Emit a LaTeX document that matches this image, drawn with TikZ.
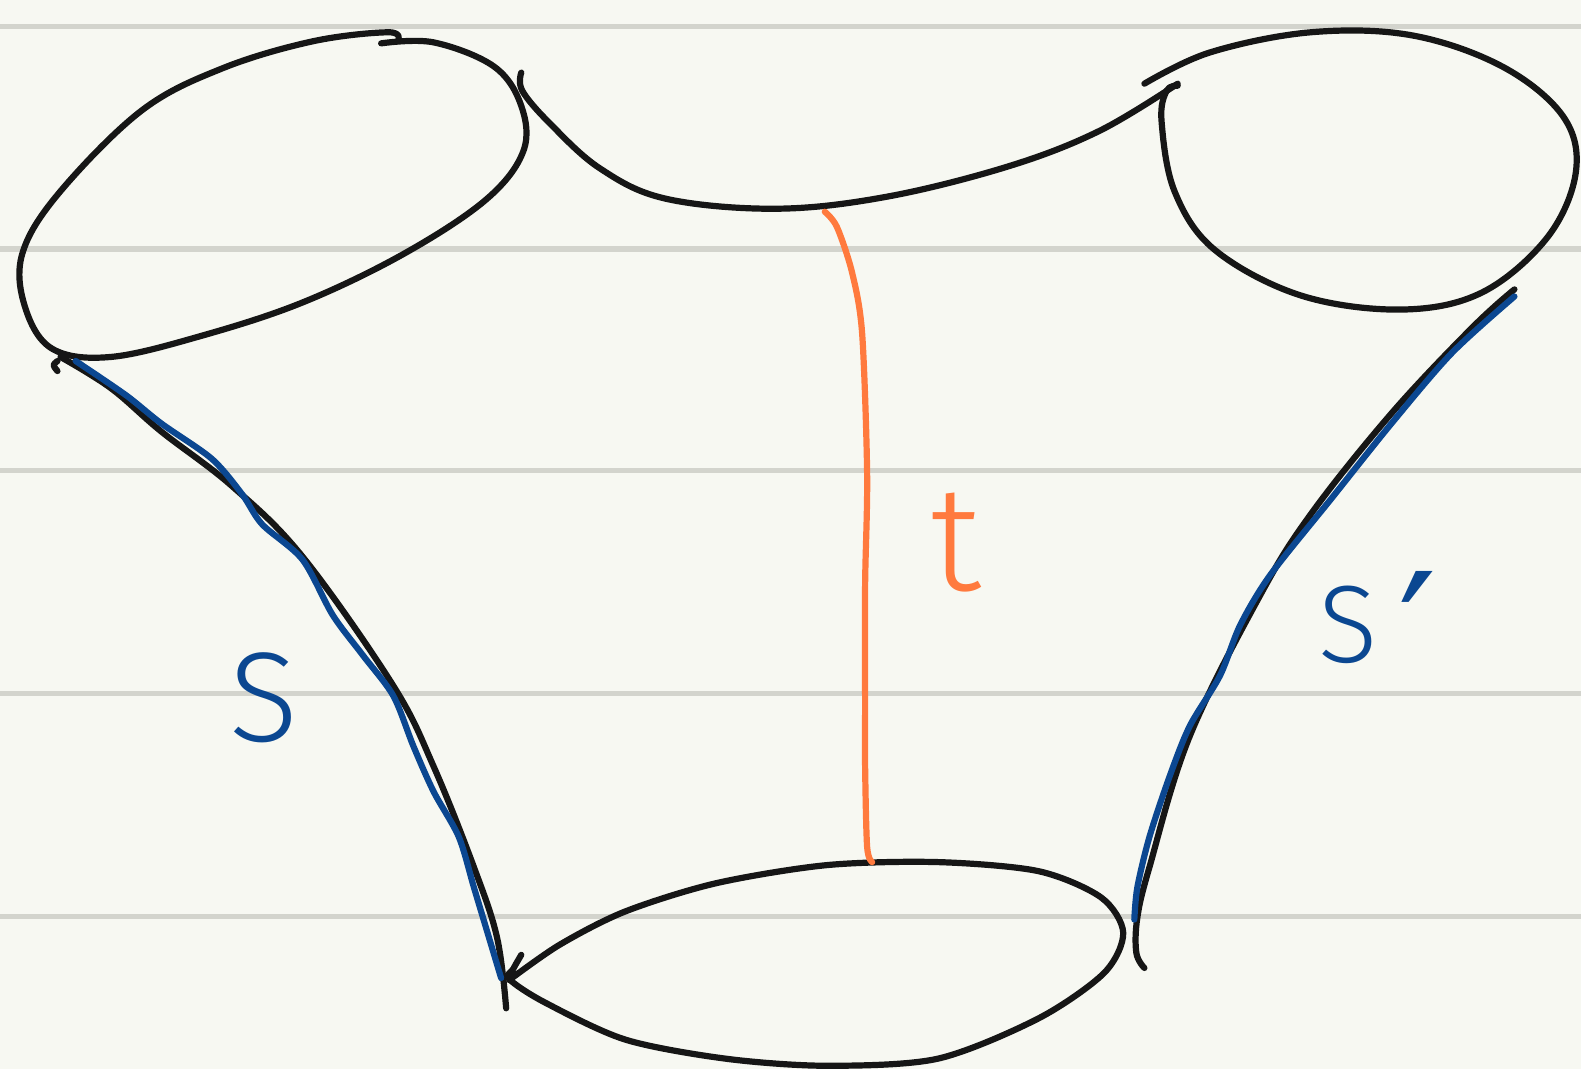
\documentclass[tikz,border=0pt]{standalone}
\usepackage{fontspec}
\setmainfont{Fira Sans Light}
\newfontfamily\primefont{DejaVu Sans}
\definecolor{paper}{HTML}{F7F8F2}
\definecolor{ruling}{HTML}{D3D4CD}
\definecolor{inkblack}{HTML}{161616}
\definecolor{inkblue}{HTML}{0B4791}
\definecolor{inkorange}{HTML}{FF7A3E}
\begin{document}
\begin{tikzpicture}[x=0.01cm, y=-0.01cm, line cap=round, line join=round,
  rule/.style={line width=1.45pt, draw=ruling},
  ink/.style={line width=1.75pt, draw=inkblack},
  curve/.style={line width=1.75pt, draw=inkblue},
  arc/.style={line width=1.75pt, draw=inkorange},
  lbl/.style={inner sep=0pt, font=\fontsize{36}{40}\selectfont}]
% paper and ruling
\fill[paper] (0,0) rectangle (1568,1060);
\useasboundingbox (0,0) rectangle (1568,1060);
\foreach \y in {26,247,467,688,909} \draw[rule] (0,\y) -- (1568,\y);
% left cuff
\draw[ink] plot[smooth, tension=0.6] coordinates {(378,43) (430,42) (490,66) (517,105) (519,150) (482,198) (400,252) (300,300) (200,333) (110,354) (52,346) (25,305) (22,252) (58,192) (140,110) (220,68) (310,41) (385,32) (395,40)};
\draw[ink] (57,358) .. controls (52,362) .. (57,368);
% right cuff
\draw[ink] plot[smooth, tension=0.6] coordinates {(1135,83) (1200,52) (1300,32) (1400,35) (1490,66) (1550,115) (1563,170) (1535,235) (1470,290) (1390,307) (1290,293) (1205,248) (1165,190) (1152,120) (1157,90) (1168,85)};
% waist
\draw[ink] plot[smooth, tension=0.6] coordinates {(517,72) (518,90) (545,122) (595,167) (660,197) (770,207) (880,195) (1000,165) (1090,130) (1168,83)};
% bottom cuff
\draw[ink] plot[smooth, tension=0.5] coordinates {(517,947) (509,961) (505,971) (540,994) (620,1031) (720,1050) (820,1057) (930,1050) (1030,1010) (1095,965) (1114,925) (1092,890) (1030,864) (930,855) (820,858) (710,876) (620,904) (555,937) (505,972)};
% legs
\draw[ink] plot[smooth, tension=0.6] coordinates {(60,354) (110,385) (160,428) (230,482) (300,552) (390,680) (430,760) (470,860) (493,930) (502,1000)};
\draw[ink] plot[smooth, tension=0.6] coordinates {(1502,287) (1460,325) (1380,410) (1300,510) (1250,590) (1180,730) (1140,860) (1128,910) (1127,945) (1135,960)};
% geodesics s and s'
\draw[curve] plot[smooth, tension=0.5] coordinates {(75,358) (125,392) (160,420) (210,455) (240,490) (260,520) (300,555) (330,610) (360,650) (390,690) (410,740) (430,785) (455,830) (470,880) (485,930) (497,970)};
\draw[curve] plot[smooth, tension=0.5] coordinates {(1502,294) (1440,350) (1380,420) (1320,495) (1260,570) (1230,620) (1210,670) (1180,720) (1160,770) (1140,830) (1128,880) (1125,912)};
% arc t
\draw[arc] plot[smooth, tension=0.5] coordinates {(818,210) (830,225) (845,270) (855,330) (860,470) (858,580) (858,700) (858,760) (860,840) (865,855)};
% labels
\node[lbl, text=inkblue] (s) at (262,692) {S};
\node[lbl, text=inkblue, font=\fontsize{31}{36}\selectfont] (sp) at (1337,620) {S};
\node[lbl, text=inkblue, font=\primefont\fontsize{48}{52}\selectfont] (prime) at (1406,628) {′};
\node[lbl, text=inkorange, font=\fontsize{42}{46}\selectfont] (t) at (948,538) {t};
\end{tikzpicture}
\end{document}
